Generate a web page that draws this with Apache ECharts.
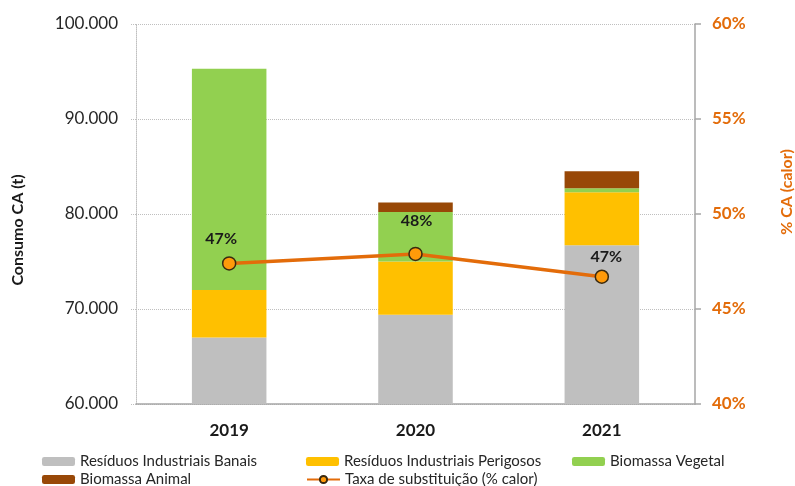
<!DOCTYPE html>
<html>
<head>
<meta charset="utf-8">
<script src="https://cdn.jsdelivr.net/npm/echarts@6/dist/echarts.min.js"></script>
<style>
  html, body { margin: 0; padding: 0; background: #ffffff; }
  #chart { width: 795px; height: 486px; }
</style>
</head>
<body>
<div id="chart"></div>
<script>
// Consumo de combustíveis alternativos (t) por ano e taxa de substituição (% calor)
const years = ['2019', '2020', '2021'];
const residuosBanais = [67000, 69400, 76700];
const residuosPerigosos = [5000, 5600, 5600];
const biomassaVegetal = [23300, 5200, 400];
const biomassaAnimal = [0, 1000, 1800];
const taxaSubstituicao = [47.4, 47.9, 46.7];

const leftTicks = { min: 60000, max: 100000, interval: 10000 };
const rightTicks = { min: 40, max: 60, interval: 5 };

const FONT = 'Lato, "Open Sans", sans-serif';
const ORANGE = '#E36C0A';
const AXIS_GREY = '#A6A6A6';
const GRID_GREY = '#BFBFBF';

// per-point placement of the percentage labels above the markers
const labelDistance = [9, 18, 5];
const labelPadding = [[0, 16, 0, 0], [0, 0, 0, 2], [0, 0, 0, 9]];

function thousands(v) {
  return String(v).replace(/\B(?=(\d{3})+(?!\d))/g, '.');
}

const chart = echarts.init(document.getElementById('chart'), null, { renderer: 'canvas' });

const barBase = {
  type: 'bar',
  stack: 'consumo',
  barWidth: '40%',
  yAxisIndex: 0
};

const legendText = { fontFamily: FONT, fontSize: 15, color: '#262626' };
function legendAt(name, left, top) {
  return {
    data: [name],
    left: left,
    top: top,
    itemWidth: 33,
    itemHeight: 9,
    itemGap: 0,
    padding: 0,
    textStyle: legendText
  };
}

chart.setOption({
  animation: false,
  backgroundColor: '#ffffff',
  grid: { left: 136, right: 100, top: 24, bottom: 82, containLabel: false, outerBoundsMode: 'none' },
  legend: [
    legendAt('Resíduos Industriais Banais', 42, 454),
    legendAt('Resíduos Industriais Perigosos', 306, 454),
    legendAt('Biomassa Vegetal', 572, 454),
    legendAt('Biomassa Animal', 42, 472),
    legendAt('Taxa de substituição (% calor)', 306, 472)
  ],
  xAxis: {
    type: 'category',
    data: years,
    axisLine: { show: true, lineStyle: { color: AXIS_GREY, width: 1.5 } },
    axisTick: { show: false },
    axisLabel: {
      fontFamily: FONT, fontSize: 17, fontWeight: 'bold', color: '#1a1a1a', margin: 18
    }
  },
  yAxis: [
    {
      type: 'value',
      min: leftTicks.min,
      max: leftTicks.max,
      interval: leftTicks.interval,
      name: 'Consumo CA (t)',
      nameLocation: 'middle',
      nameGap: 110,
      nameRotate: 90,
      nameTextStyle: { fontFamily: FONT, fontSize: 16, fontWeight: 'bold', color: '#1a1a1a', padding: [0, 0, 0, -32] },
      axisLine: { show: true, lineStyle: { color: GRID_GREY, type: 'dotted', width: 1 } },
      axisTick: { show: true, length: 5, lineStyle: { color: GRID_GREY, type: 'dotted' } },
      splitLine: { show: true, lineStyle: { color: GRID_GREY, type: 'dotted', width: 1 } },
      axisLabel: {
        fontFamily: FONT, fontSize: 17, color: '#262626', margin: 18,
        formatter: v => thousands(v)
      }
    },
    {
      type: 'value',
      position: 'right',
      min: rightTicks.min,
      max: rightTicks.max,
      interval: rightTicks.interval,
      name: '% CA (calor)',
      nameLocation: 'middle',
      nameGap: 84,
      nameRotate: 90,
      nameTextStyle: { fontFamily: FONT, fontSize: 16, fontWeight: 'bold', color: ORANGE, padding: [0, 0, 0, 44] },
      axisLine: { show: true, lineStyle: { color: AXIS_GREY, width: 1.5 } },
      axisTick: { show: true, length: 6, inside: false, lineStyle: { color: AXIS_GREY, width: 1.5 } },
      splitLine: { show: false },
      axisLabel: {
        fontFamily: FONT, fontSize: 17, fontWeight: 'bold', color: ORANGE, margin: 17,
        formatter: '{value}%'
      }
    }
  ],
  series: [
    Object.assign({}, barBase, {
      name: 'Resíduos Industriais Banais',
      data: residuosBanais,
      itemStyle: { color: '#BFBFBF' }
    }),
    Object.assign({}, barBase, {
      name: 'Resíduos Industriais Perigosos',
      data: residuosPerigosos,
      itemStyle: { color: '#FFC000' }
    }),
    Object.assign({}, barBase, {
      name: 'Biomassa Vegetal',
      data: biomassaVegetal,
      itemStyle: { color: '#92D050' }
    }),
    Object.assign({}, barBase, {
      name: 'Biomassa Animal',
      data: biomassaAnimal,
      itemStyle: { color: '#984807' }
    }),
    {
      name: 'Taxa de substituição (% calor)',
      type: 'line',
      yAxisIndex: 1,
      z: 5,
      data: taxaSubstituicao.map((v, i) => ({
        value: v,
        label: { distance: labelDistance[i], padding: labelPadding[i] }
      })),
      lineStyle: { color: ORANGE, width: 3.5 },
      symbol: 'circle',
      symbolSize: 13,
      itemStyle: { color: '#FF9A0A', borderColor: '#3a2a10', borderWidth: 1.5 },
      label: {
        show: true,
        position: 'top',
        fontFamily: FONT,
        fontSize: 16,
        fontWeight: 'bold',
        color: '#1a1a1a',
        formatter: p => Math.round(p.value) + '%'
      },
      labelLayout: { hideOverlap: false, moveOverlap: null }
    }
  ]
});
</script>
</body>
</html>
